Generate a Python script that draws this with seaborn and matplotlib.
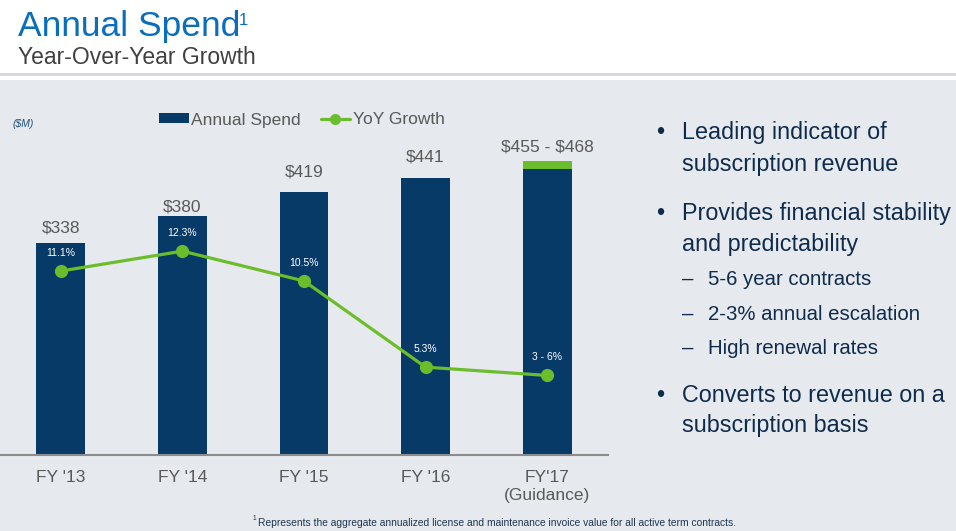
import matplotlib
matplotlib.use('Agg')
import matplotlib.pyplot as plt
from matplotlib.patches import Rectangle, Patch
from matplotlib.lines import Line2D
import seaborn as sns

# data
years = ["FY '13", "FY '14", "FY '15", "FY '16", "FY'17\n(Guidance)"]
spend_low = [338, 380, 419, 441, 455]
spend_high = [338, 380, 419, 441, 468]
spend_labels = ["\\$338", "\\$380", "\\$419", "\\$441", "\\$455 - \\$468"]
growth = [11.1, 12.3, 10.5, 5.3, 4.8]
growth_labels = ["11.1%", "12.3%", "10.5%", "5.3%", "3 - 6%"]

bullets = [
    ("Leading indicator of", 139, 1),
    ("subscription revenue", 171, 0),
    ("Provides financial stability", 220, 1),
    ("and predictability", 251, 0),
    ("5-6 year contracts", 285, 2),
    ("2-3% annual escalation", 320, 2),
    ("High renewal rates", 354, 2),
    ("Converts to revenue on a", 402, 1),
    ("subscription basis", 432, 0),
]

navy = "#083A67"
green = "#6CBD2C"
bg = "#E6EAEE"
gray = "#595959"
text_navy = "#0F2B4C"

sns.set_theme(style="white")
plt.rcParams['font.family'] = ['Liberation Sans', 'DejaVu Sans']

W, H = 956, 531
fig = plt.figure(figsize=(W / 100, H / 100), dpi=100, facecolor=bg)


def fx(x):
    return x / W


def fy(y):
    return 1 - y / H


# white header + thin rule
fig.add_artist(Rectangle((0, fy(80)), 1, 80 / H, transform=fig.transFigure,
                         facecolor="white", edgecolor="none", zorder=0))
fig.add_artist(Rectangle((0, fy(76)), 1, 3 / H, transform=fig.transFigure,
                         facecolor="#D6DADE", edgecolor="none", zorder=1))

fig.text(fx(18), fy(36), "Annual Spend", fontsize=25.5, color="#0A6EBD", va="baseline")
fig.text(fx(239), fy(25), "1", fontsize=12, color="#0A6EBD", va="baseline")
fig.text(fx(18), fy(64), "Year-Over-Year Growth", fontsize=16.5, color="#404040", va="baseline")

# chart axes: bars at 0..4, baseline at y=455px, top at 100px
ax = fig.add_axes([0, fy(455), 608 / W, 355 / H])
ax.set_facecolor("none")

sns.barplot(x=years, y=spend_high, color=green, width=0.4, saturation=1,
            linewidth=0, ax=ax)
sns.barplot(x=years, y=spend_low, color=navy, width=0.4, saturation=1,
            linewidth=0, ax=ax)

ax.set_xlim(-0.5, 4.5)
ax.set_ylim(0, 565)
ax.set_yticks([])
ax.set_xlabel("")
ax.set_ylabel("")
for s in ["top", "left", "right"]:
    ax.spines[s].set_visible(False)
ax.spines["bottom"].set_color("#8C8C8C")
ax.spines["bottom"].set_linewidth(1.5)
ax.tick_params(axis="x", length=0, pad=11, labelsize=12.5, labelcolor=gray)
ax.get_xticklabels()[-1].set_linespacing(1.25)

label_gap = [7, 3.5, 10.8, 11.5, 6.5]
for i, (v, lab) in enumerate(zip(spend_high, spend_labels)):
    ax.annotate(lab, (i, v), xytext=(0, label_gap[i]), textcoords="offset points",
                ha="center", va="baseline", fontsize=12.5, color=gray)

ax2 = ax.twinx()
ax2.set_facecolor("none")
sns.lineplot(x=list(range(len(growth))), y=growth, ax=ax2, color=green,
             linewidth=2.3, marker="o", markersize=9.5, markeredgewidth=0)
ax2.set_xlim(-0.5, 4.5)
ax2.set_ylim(0, 21.42)
ax2.set_yticks([])
ax2.set_ylabel("")
for s in ax2.spines.values():
    s.set_visible(False)

for i, (v, lab) in enumerate(zip(growth, growth_labels)):
    ax2.annotate(lab, (i, v), xytext=(0, 10.8), textcoords="offset points",
                 ha="center", va="baseline", fontsize=7.5, color="white")

# legend
handles = [Patch(facecolor=navy, edgecolor="none"),
           Line2D([], [], color=green, linewidth=2.3, marker="o", markersize=8,
                  markeredgewidth=0)]
fig.legend(handles, ["Annual Spend", "YoY Growth"], loc="center left",
           bbox_to_anchor=(fx(159), fy(120)), ncol=2, frameon=False,
           fontsize=12.5, handlelength=1.7, handleheight=0.52, handletextpad=0.15,
           columnspacing=1.15, borderpad=0, borderaxespad=0, labelcolor=gray)

fig.text(fx(13), fy(127), "($M)", fontsize=7.5, style="italic", color="#1F4E79",
         va="baseline")

# bullet text on the right
for txt, yb, kind in bullets:
    if kind == 2:
        fig.text(fx(682), fy(yb), "\u2013", fontsize=14.7, color=text_navy, va="baseline")
        fig.text(fx(708), fy(yb), txt, fontsize=14.7, color=text_navy, va="baseline")
    else:
        if kind == 1:
            fig.text(fx(656), fy(yb), "\u2022", fontsize=16.8, color=text_navy, va="baseline")
        fig.text(fx(682), fy(yb), txt, fontsize=16.8, color=text_navy, va="baseline")

# footnote
fig.text(fx(253), fy(520), "1", fontsize=4.8, color="#1F3550", va="baseline")
fig.text(fx(258), fy(526), "Represents the aggregate annualized license and maintenance "
         "invoice value for all active term contracts.", fontsize=7.35, color="#1F3550",
         va="baseline")

fig.savefig("out.png", dpi=100, facecolor=bg)
plt.close(fig)
